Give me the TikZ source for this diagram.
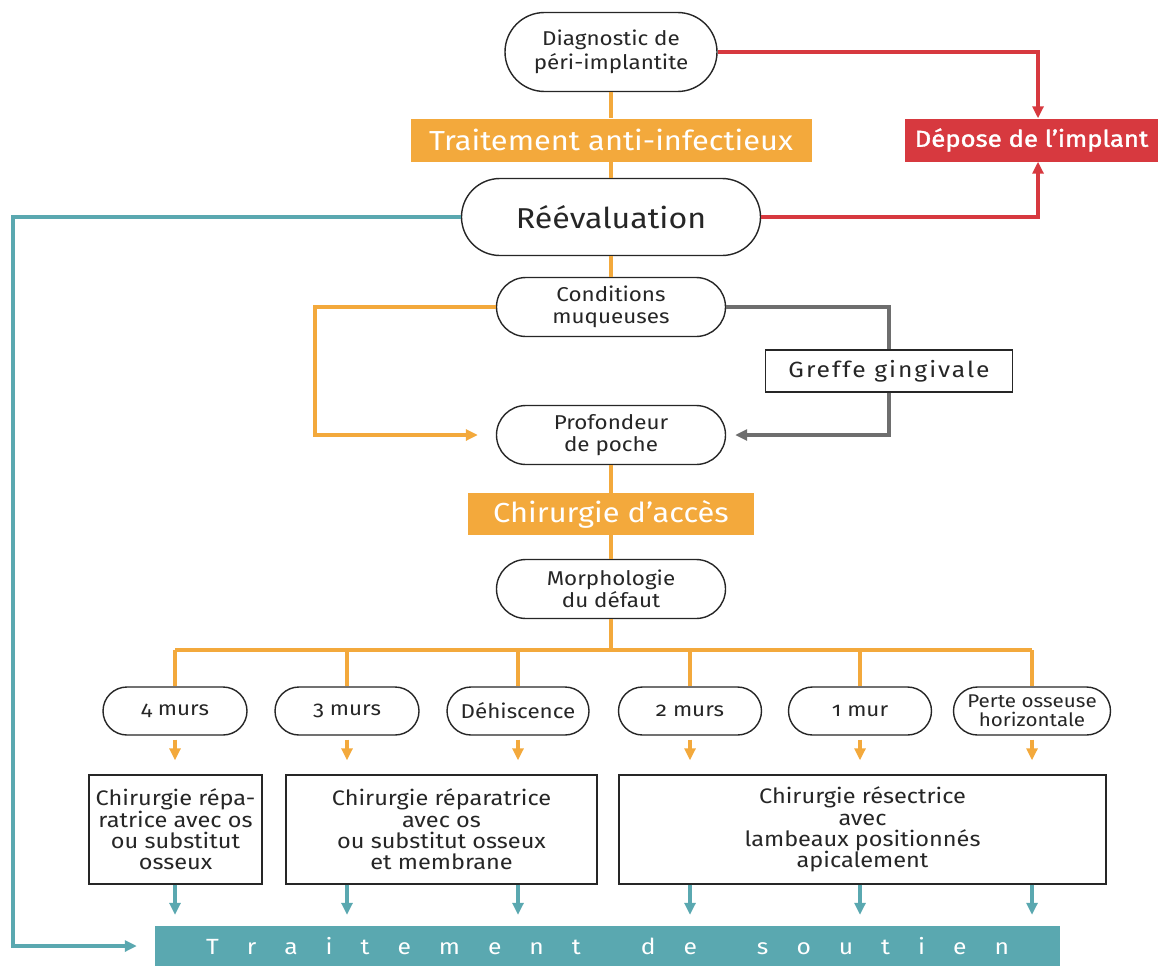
\documentclass[tikz,border=0pt]{standalone}
\usepackage{fontspec}
\setmainfont[Numbers=OldStyle, FakeStretch=1.12]{Fira Sans}
\usetikzlibrary{arrows.meta,shapes.misc}
\definecolor{orng}{HTML}{F3A93C}
\definecolor{redd}{HTML}{D7393F}
\definecolor{tealc}{HTML}{5AA8B0}
\definecolor{grayl}{HTML}{6E6E6E}
\definecolor{ink}{HTML}{262626}
\newcommand\barsp{\hspace{28pt}}
\newcommand\barwsp{\hspace{60pt}}
\tikzset{
  base/.style={inner sep=0pt, align=center, font=\fontsize{20}{22.5}\selectfont, text=ink},
  rr/.style={base, rounded rectangle, draw=ink, line width=1.4pt, fill=white},
  bx/.style={base, rectangle, draw=ink, line width=1.4pt, fill=white, font=\fontsize{21}{21.2}\selectfont},
  ob/.style={base, rectangle, fill=orng, text=white, font=\fontsize{27.5}{30}\selectfont},
  oline/.style={draw=orng, line width=3.4pt},
  rline/.style={draw=redd, line width=3.2pt},
  tline/.style={draw=tealc, line width=3.4pt},
  gline/.style={draw=grayl, line width=3.8pt},
  tip/.style={-{Triangle[width=11pt,length=12pt]}},
}
\begin{document}
\begin{tikzpicture}[x=1pt,y=-1pt]
\useasboundingbox (0,0) rectangle (1158,966);
% helper coordinates
\coordinate (redx) at (1038,0);
\coordinate (tealx) at (13,0);
\coordinate (leftx) at (315,0);
\coordinate (busy) at (0,650);

% top part
\node[rr, minimum width=212pt, minimum height=79pt, font=\fontsize{20}{23.4}\selectfont] (diag) at (611,52) {Diagnostic de\\péri-implantite};
\node[ob, minimum width=401pt, minimum height=43pt] (trt) at (611,140) {Traitement anti-infectieux};
\node[base, rectangle, fill=redd, text=white, font=\fontsize{23}{25}\selectfont\addfontfeature{FakeBold=1.6}, minimum width=253pt, minimum height=43pt] (depose) at (1031.5,140) {Dépose de l'implant};
\node[rr, minimum width=299pt, minimum height=77pt, font=\fontsize{28.7}{32}\selectfont] (reev) at (611,217) {Réévaluation};
\node[rr, minimum width=229pt, minimum height=59pt] (cond) at (611,307) {Conditions\\muqueuses};
\node[bx, minimum width=247pt, minimum height=42pt, font=\fontsize{22}{23}\selectfont\addfontfeature{LetterSpace=9}] (greffe) at (889,371) {Greffe gingivale};
\node[rr, minimum width=229pt, minimum height=59pt] (prof) at (611,435) {Profondeur\\de poche};
\node[ob, minimum width=286pt, minimum height=42pt] (acces) at (611,514) {Chirurgie d'accès};
\node[rr, minimum width=229pt, minimum height=59pt] (morph) at (611,589) {Morphologie\\du défaut};

% row of defects
\node[rr, minimum width=144pt, minimum height=48pt] (m4) at (175,711) {4 murs};
\node[rr, minimum width=144pt, minimum height=48pt] (m3) at (347,711) {3 murs};
\node[rr, minimum width=142pt, minimum height=48pt] (deh) at (518,711) {Déhiscence};
\node[rr, minimum width=143pt, minimum height=48pt] (m2) at (690,711) {2 murs};
\node[rr, minimum width=143pt, minimum height=48pt] (m1) at (860,711) {1 mur};
\node[rr, minimum width=157pt, minimum height=48pt, font=\fontsize{18.4}{19}\selectfont] (perte) at (1032,711) {Perte osseuse\\horizontale};

% treatment boxes
\node[bx, minimum width=173pt, minimum height=109pt] (b1) at (175.5,829.5) {Chirurgie répa-\\ratrice avec os\\ou substitut\\osseux};
\node[bx, minimum width=311pt, minimum height=109pt] (b2) at (441.5,829.5) {Chirurgie réparatrice\\avec os\\ou substitut osseux\\et membrane};
\node[bx, minimum width=487pt, minimum height=109pt] (b3) at (862.5,829.5) {Chirurgie résectrice\\avec\\lambeaux positionnés\\apicalement};

% bottom bar
\node[base, rectangle, fill=tealc, text=white, minimum width=905pt, minimum height=40pt, font=\fontsize{22}{26}\selectfont] (bar) at (607.5,946) {T\barsp r\barsp a\barsp i\barsp t\barsp e\barsp m\barsp e\barsp n\barsp t\barwsp d\barsp e\barwsp s\barsp o\barsp u\barsp t\barsp i\barsp e\barsp n};

% orange vertical spine
\draw[oline] (diag.south) -- (trt.north);
\draw[oline] (trt.south) -- (reev.north);
\draw[oline] (reev.south) -- (cond.north);
\draw[oline] (prof.south) -- (acces.north);
\draw[oline] (acces.south) -- (morph.north);
\draw[oline] (morph.south) -- (morph.south |- busy);
\draw[oline] (m4.north |- busy) -- (perte.north |- busy);
\foreach \n in {m4,m3,deh,m2,m1,perte} {
  \draw[oline] (\n.north |- busy) -- (\n.north);
}

% red connectors
\draw[rline, tip] (diag.east) -| (depose.north -| redx);
\draw[rline, tip] (reev.east) -| (depose.south -| redx);

% teal feedback
\draw[tline, tip, shorten >=18pt] (reev.west) -| (tealx |- bar.west) -- (bar.west);

% mucosa loop
\draw[oline, tip, shorten >=18pt] (cond.west) -| (leftx |- prof.west) -- (prof.west);
\draw[gline] (cond.east) -| (greffe.north);
\draw[gline, tip, shorten >=9pt] (greffe.south) |- (prof.east);

% orange arrows to treatment boxes
\draw[oline, tip, shorten <=4pt, shorten >=14pt] (m4.south) -- (m4.south |- b1.north);
\draw[oline, tip, shorten <=4pt, shorten >=14pt] (m3.south) -- (m3.south |- b2.north);
\draw[oline, tip, shorten <=4pt, shorten >=14pt] (deh.south) -- (deh.south |- b2.north);
\draw[oline, tip, shorten <=4pt, shorten >=14pt] (m2.south) -- (m2.south |- b3.north);
\draw[oline, tip, shorten <=4pt, shorten >=14pt] (m1.south) -- (m1.south |- b3.north);
\draw[oline, tip, shorten <=4pt, shorten >=14pt] (perte.south) -- (perte.south |- b3.north);

% teal arrows to bar
\draw[tline, tip, shorten >=11pt] (b1.south -| m4) -- (bar.north -| m4);
\draw[tline, tip, shorten >=11pt] (b2.south -| m3) -- (bar.north -| m3);
\draw[tline, tip, shorten >=11pt] (b2.south -| deh) -- (bar.north -| deh);
\draw[tline, tip, shorten >=11pt] (b3.south -| m2) -- (bar.north -| m2);
\draw[tline, tip, shorten >=11pt] (b3.south -| m1) -- (bar.north -| m1);
\draw[tline, tip, shorten >=11pt] (b3.south -| perte) -- (bar.north -| perte);
\end{tikzpicture}
\end{document}
